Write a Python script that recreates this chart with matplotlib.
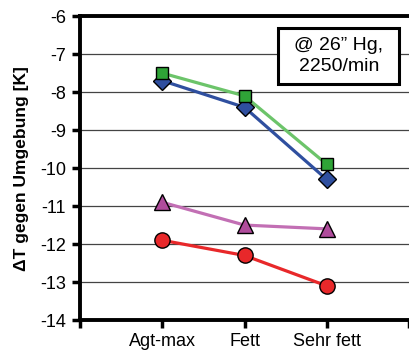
import matplotlib.pyplot as plt
from matplotlib.patches import Rectangle

categories = ['Agt-max', 'Fett', 'Sehr fett']
green_sq = [-7.5, -8.1, -9.9]
blue_dia = [-7.7, -8.4, -10.3]
purple_tri = [-10.9, -11.5, -11.6]
red_circ = [-11.9, -12.3, -13.1]
y_ticks = [-6, -7, -8, -9, -10, -11, -12, -13, -14]

plt.rcParams['font.family'] = ['Liberation Sans', 'DejaVu Sans']

fig = plt.figure(figsize=(4.09, 3.58), dpi=100)
ax = fig.add_axes([0.1956, 0.106, 0.8044, 0.849])

x = [1, 2, 3]
# series: (values, line colour, marker face, marker, size)
series = [
    (red_circ, '#e8282a', '#e8282a', 'o', 11),
    (purple_tri, '#c26fb4', '#b04c9c', '^', 11),
    (blue_dia, '#2f4f9f', '#2f4f9f', 'D', 9),
    (green_sq, '#6cc46a', '#2fa437', 's', 9),
]
for vals, lc, fc, m, ms in series:
    ax.plot(x, vals, color=lc, linewidth=2.3, zorder=3)
    ax.plot(x, vals, linestyle='none', marker=m, markersize=ms,
            markerfacecolor=fc, markeredgecolor='black', markeredgewidth=1, zorder=4)

ax.set_xlim(0, 4)
ax.set_ylim(-14, -6)
ax.set_yticks(y_ticks)
ax.set_yticklabels([str(v) for v in y_ticks], fontsize=13)
ax.set_xticks([0, 1, 2, 3, 4])
ax.set_xticklabels([''] + categories + [''], fontsize=13)
ax.tick_params(axis='both', direction='out', width=2.5, length=6, color='black')
ax.tick_params(axis='x', pad=3)
ax.tick_params(axis='y', pad=4)
ax.grid(axis='y', color='#444444', linewidth=0.9)
ax.set_axisbelow(True)

for s in ['left', 'top', 'bottom']:
    ax.spines[s].set_linewidth(2.8)
ax.spines['right'].set_visible(False)

ax.set_ylabel('ΔT gegen Umgebung [K]', fontsize=12.5, fontweight='bold', labelpad=8)

box = Rectangle((0.602, 0.776), 0.369, 0.185, transform=ax.transAxes,
                facecolor='white', edgecolor='black', linewidth=2.2, zorder=5)
ax.add_patch(box)
ax.text(0.7865, 0.8685, '@ 26” Hg,\n2250/min', transform=ax.transAxes,
        fontsize=14, ha='center', va='center', linespacing=1.3, zorder=6)

fig.savefig('out.png', dpi=100)
